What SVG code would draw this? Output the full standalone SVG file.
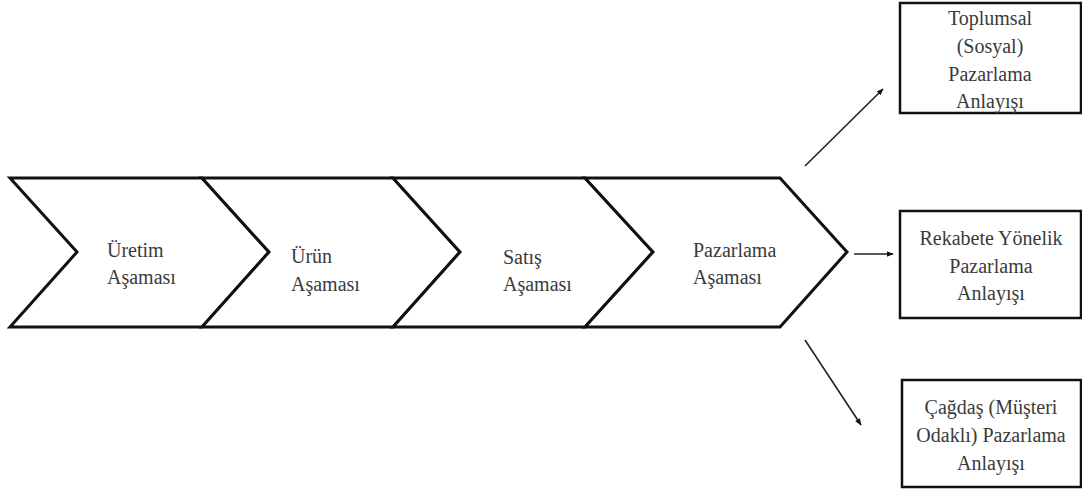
<svg xmlns="http://www.w3.org/2000/svg" width="1082" height="494" viewBox="0 0 1082 494">
  <style>
    .stage { fill: #ffffff; stroke: #111111; stroke-width: 3; stroke-linejoin: miter; }
    .box { fill: #ffffff; stroke: #111111; stroke-width: 2.5; }
    .lbl { font-family: 'Liberation Serif', 'DejaVu Serif', serif; font-size: 20px; fill: #3a3a3a; }
    .mid { text-anchor: middle; }
    .link { stroke: #222222; stroke-width: 1.6; fill: none; marker-end: url(#head); }
  </style>
  <defs>
    <marker id="head" viewBox="0 0 10 8" refX="9" refY="4" markerWidth="7" markerHeight="6" markerUnits="userSpaceOnUse" orient="auto">
      <path d="M0,0 L10,4 L0,8 z" fill="#111111"/>
    </marker>
  </defs>

  <rect width="1082" height="494" fill="#ffffff"/>

  <!-- process stages -->
  <g id="stage-uretim">
    <polygon class="stage" points="10,178 202,178 269,252 202,327 10,327 77,252"/>
    <text class="lbl" x="107" y="257">Üretim</text>
    <text class="lbl" x="107" y="284">Aşaması</text>
  </g>
  <g id="stage-urun">
    <polygon class="stage" points="202,178 393,178 460,252 393,327 202,327 269,252"/>
    <text class="lbl" x="291" y="263">Ürün</text>
    <text class="lbl" x="291" y="291">Aşaması</text>
  </g>
  <g id="stage-satis">
    <polygon class="stage" points="393,178 585,178 653,252 585,327 393,327 460,252"/>
    <text class="lbl" x="503" y="264">Satış</text>
    <text class="lbl" x="503" y="291">Aşaması</text>
  </g>
  <g id="stage-pazarlama">
    <polygon class="stage" points="585,178 780,178 847,252 780,327 585,327 653,252"/>
    <text class="lbl" x="693" y="257">Pazarlama</text>
    <text class="lbl" x="693" y="284">Aşaması</text>
  </g>

  <!-- outcome concepts -->
  <g id="concept-toplumsal">
    <rect class="box" x="900" y="3" width="181" height="110"/>
    <text class="lbl mid" x="990" y="25">Toplumsal</text>
    <text class="lbl mid" x="990" y="53">(Sosyal)</text>
    <text class="lbl mid" x="990" y="81">Pazarlama</text>
    <text class="lbl mid" x="990" y="108">Anlayışı</text>
  </g>
  <g id="concept-rekabet">
    <rect class="box" x="900" y="211" width="181" height="107"/>
    <text class="lbl mid" x="991" y="245">Rekabete Yönelik</text>
    <text class="lbl mid" x="991" y="273">Pazarlama</text>
    <text class="lbl mid" x="991" y="300">Anlayışı</text>
  </g>
  <g id="concept-cagdas">
    <rect class="box" x="902" y="380" width="179" height="107"/>
    <text class="lbl mid" x="991" y="414">Çağdaş (Müşteri</text>
    <text class="lbl mid" x="991" y="442">Odaklı) Pazarlama</text>
    <text class="lbl mid" x="991" y="470">Anlayışı</text>
  </g>

  <!-- connectors -->
  <g id="connectors">
    <line class="link" x1="805" y1="166" x2="883" y2="89"/>
    <line class="link" x1="854" y1="254" x2="893" y2="254"/>
    <line class="link" x1="805" y1="340" x2="861" y2="425"/>
  </g>
</svg>
